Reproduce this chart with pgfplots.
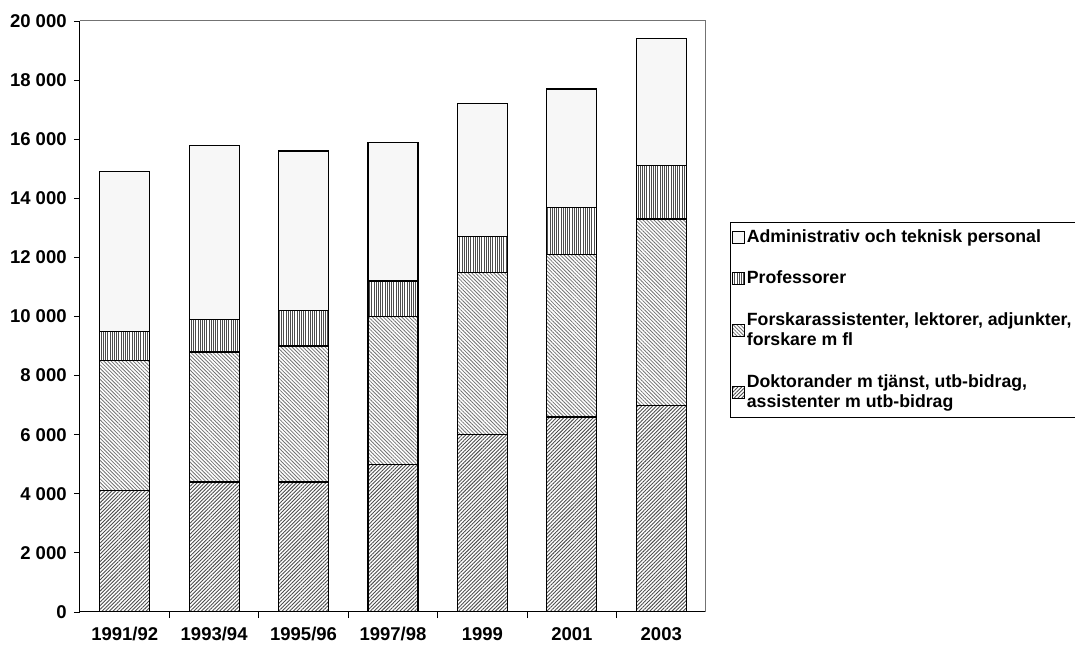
\documentclass[border=0pt]{standalone}
\usepackage{pgfplots}
\pgfplotsset{compat=1.18}
\usepackage{fontspec}
\setmainfont{Liberation Sans}
\usetikzlibrary{patterns.meta}
\begin{document}
\fontsize{18.5}{21}\selectfont\bfseries
\begin{tikzpicture}
\useasboundingbox (-80pt,-35pt) rectangle (995pt,612pt);
\begin{axis}[
  at={(0pt,0pt)}, anchor=south west,
  scale only axis, width=626pt, height=591pt,
  ybar stacked, bar width=0.56,
  xmin=-0.5, xmax=6.5, ymin=0, ymax=20000,
  axis x line*=bottom, axis y line*=left,
  axis line style={black, line width=1pt},
  xtick={0,...,6},
  xticklabels={1991/92,1993/94,1995/96,1997/98,1999,2001,2003},
  major x tick style={draw=none},
  minor xtick={0.5,1.5,...,5.5},
  minor x tick style={black, line width=0.8pt},
  minor tick length=6pt,
  xtick align=outside,
  ytick={0,2000,...,20000},
  ytick align=outside,
  major tick length=6pt,
  major y tick style={black, line width=0.8pt},
  yticklabel style={xshift=-1pt, /pgf/number format/.cd, fixed, 1000 sep={\ }, assume math mode=true},
  ticklabel style={font=\fontsize{18.5}{21}\selectfont\bfseries},
  xticklabel style={yshift=-3pt},
  scaled y ticks=false,
  reverse legend,
  legend style={at={(1.0383,0.66)}, anchor=north west, draw=black, line width=0.8pt,
    font=\fontsize{17.7}{20.5}\selectfont\bfseries, row sep=22pt,
    inner xsep=2pt, inner ysep=5pt, cells={align=left, anchor=west}},
  legend cell align=left,
  legend image code/.code={\draw[#1, line width=0.5pt] (0pt,-6pt) rectangle (12pt,6pt);},
  after end axis/.code={\draw[black!55, line width=1pt] (rel axis cs:0,1) -- (rel axis cs:1,1) -- (rel axis cs:1,0);},
]
\addplot[draw=black, line width=1.2pt, pattern={Lines[angle=45,distance=2.6pt,line width=0.9pt]}, pattern color=black!70]
  coordinates {(0,4100) (1,4400) (2,4400) (3,5000) (4,6000) (5,6600) (6,7000)};
\addlegendentry{Doktorander m tjänst, utb-bidrag,\\assistenter m utb-bidrag}
\addplot[draw=black, line width=1.2pt, pattern={Lines[angle=-45,distance=2.6pt,line width=0.8pt]}, pattern color=black!55]
  coordinates {(0,4400) (1,4400) (2,4600) (3,5000) (4,5500) (5,5500) (6,6300)};
\addlegendentry{Forskarassistenter, lektorer, adjunkter,\\forskare m fl}
\addplot[draw=black, line width=1.2pt, pattern={Lines[angle=90,distance=2.2pt,line width=1pt]}, pattern color=black!70]
  coordinates {(0,1000) (1,1100) (2,1200) (3,1200) (4,1200) (5,1600) (6,1800)};
\addlegendentry{Professorer}
\addplot[draw=black, line width=1.2pt, fill=black!3]
  coordinates {(0,5400) (1,5900) (2,5400) (3,4700) (4,4500) (5,4000) (6,4300)};
\addlegendentry{Administrativ och teknisk personal}
\end{axis}
\end{tikzpicture}
\end{document}
